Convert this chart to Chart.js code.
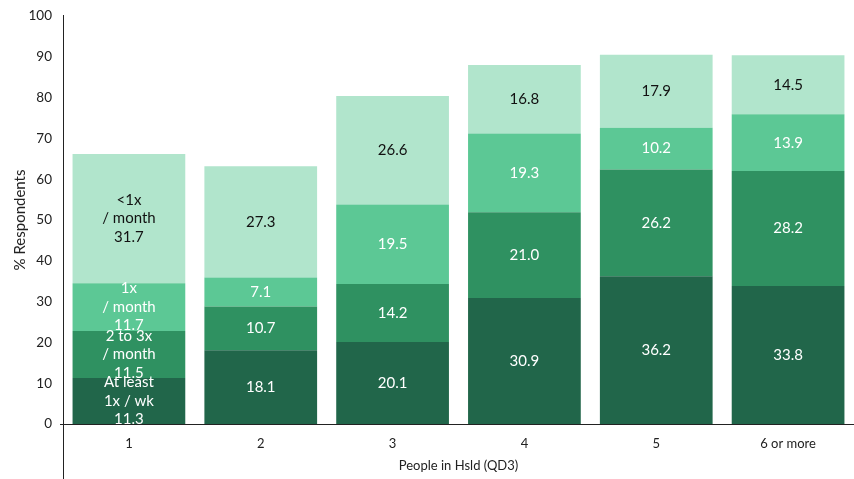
<!DOCTYPE html>
<html><head><meta charset="utf-8">
<script src="https://cdn.jsdelivr.net/npm/chart.js@4.4.0/dist/chart.umd.min.js"></script>
<style>html,body{margin:0;padding:0;background:#fff}#wrap{width:854px;height:479px;position:relative}</style>
</head><body><div id="wrap"><canvas id="c" width="854" height="479"></canvas></div>
<script>
const categories = ["1","2","3","4","5","6 or more"];
const seriesNames = ["At least\n1x / wk","2 to 3x\n/ month","1x\n/ month","<1x\n/ month"];
const atLeastWeekly = [11.3,18.1,20.1,30.9,36.2,33.8];
const twoToThreeMonthly = [11.5,10.7,14.2,21.0,26.2,28.2];
const onceMonthly = [11.7,7.1,19.5,19.3,10.2,13.9];
const lessThanMonthly = [31.7,27.3,26.6,16.8,17.9,14.5];
const yTicks = [0,10,20,30,40,50,60,70,80,90,100];

const colors = ["#21664a","#2f9161","#5cc895","#b1e5cc"];
const textColors = ["#ffffff","#ffffff","#ffffff","#111111"];
const FONT = "Lato, 'Open Sans', sans-serif";

const seriesData = [atLeastWeekly,twoToThreeMonthly,onceMonthly,lessThanMonthly];
const datasets = seriesData.map((d,i)=>({
  label: seriesNames[i].replace("\n"," "),
  data: d,
  backgroundColor: colors[i],
  borderWidth: 0,
  barPercentage: 0.855,
  categoryPercentage: 1.0
}));

const labelPlugin = {
  id:'segLabels',
  afterDatasetsDraw(chart){
    const ctx = chart.ctx;
    ctx.save();
    ctx.font = "15px " + FONT;
    ctx.textAlign = "center";
    ctx.textBaseline = "middle";
    chart.data.datasets.forEach((ds,di)=>{
      const meta = chart.getDatasetMeta(di);
      meta.data.forEach((el,i)=>{
        const v = ds.data[i];
        const txt = v.toFixed(1);
        const lines = (i===0) ? seriesNames[di].split("\n").concat([txt]) : [txt];
        const cy = (el.y + el.base)/2;
        const lh = 18.5;
        const start = cy - (lines.length-1)*lh/2;
        ctx.fillStyle = textColors[di];
        lines.forEach((ln,k)=>ctx.fillText(ln, el.x, start + k*lh));
      });
    });
    ctx.restore();
  },
  afterDraw(chart){
    const ctx = chart.ctx, a = chart.chartArea;
    ctx.save();
    ctx.strokeStyle = "#222";
    ctx.lineWidth = 1;
    ctx.beginPath();
    ctx.moveTo(a.left+0.5, a.top-1);
    ctx.lineTo(a.left+0.5, chart.height);
    ctx.moveTo(a.left-3, a.bottom+0.5);
    ctx.lineTo(a.right, a.bottom+0.5);
    ctx.stroke();
    ctx.restore();
  }
};

new Chart(document.getElementById('c'), {
  type:'bar',
  data:{labels:categories, datasets},
  options:{
    responsive:false,
    animation:false,
    devicePixelRatio:1,
    layout:{padding:{top:16,right:0,left:0,bottom:0}},
    plugins:{legend:{display:false},tooltip:{enabled:false}},
    scales:{
      x:{
        stacked:true,
        grid:{display:false},
        border:{display:false},
        ticks:{color:"#222",font:{family:FONT,size:13},padding:4},
        title:{display:true,text:"People in Hsld (QD3)",color:"#222",font:{family:FONT,size:13},padding:{top:4,bottom:5}},
        afterFit(s){ s.height = 55; }
      },
      y:{
        stacked:true,
        min:0,max:100,
        afterBuildTicks(s){ s.ticks = yTicks.map(v=>({value:v})); },
        grid:{display:false},
        border:{display:false},
        ticks:{color:"#222",font:{family:FONT,size:13.5},padding:3},
        title:{display:true,text:"% Respondents",color:"#222",font:{family:FONT,size:15},padding:{top:11,bottom:0}},
        afterFit(s){ s.width = 63; }
      }
    }
  },
  plugins:[labelPlugin]
});
</script></body></html>
